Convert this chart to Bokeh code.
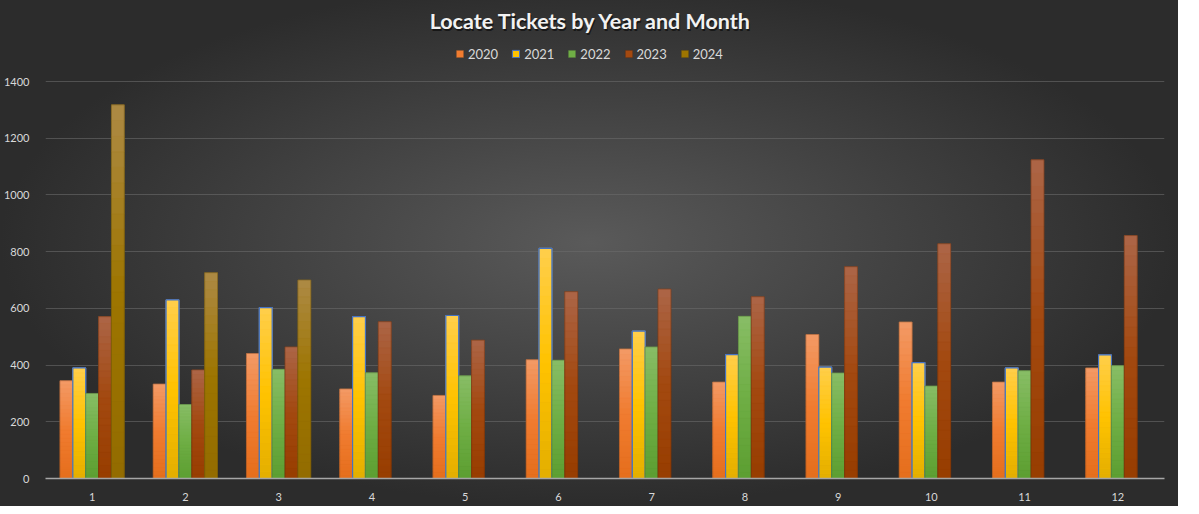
from bokeh.plotting import figure
from bokeh.models import ColumnDataSource, Range1d, Legend, LegendItem, FixedTicker, Label
from bokeh.embed import file_html
from bokeh.resources import INLINE

# ---- data ----
months = [1, 2, 3, 4, 5, 6, 7, 8, 9, 10, 11, 12]
years = ["2020", "2021", "2022", "2023", "2024"]
v2020 = [345, 333, 441, 316, 293, 419, 457, 340, 508, 552, 340, 390]
v2021 = [390, 630, 603, 571, 575, 812, 520, 437, 393, 409, 390, 436]
v2022 = [300, 261, 385, 373, 362, 417, 464, 572, 372, 326, 380, 398]
v2023 = [571, 383, 464, 553, 488, 659, 668, 641, 747, 828, 1124, 857]
v2024 = [1318, 726, 700, None, None, None, None, None, None, None, None, None]
y_ticks = [0, 200, 400, 600, 800, 1000, 1200, 1400]
title_text = "Locate Tickets by Year and Month"

series = [v2020, v2021, v2022, v2023, v2024]

# ---- style / layout ----
grad = [
    ("#F39A66", "#F07C30", "#E56E1C"),
    ("#FFCE4C", "#FFC300", "#E3AE00"),
    ("#88BD66", "#6FAE45", "#5C9E31"),
    ("#AC6547", "#A34910", "#973D00"),
    ("#AD8A45", "#9D7500", "#936C00"),
]
outline = ["#7A4A2A", "#4472C4", "#4E6E3A", "#5E2E10", "#5E4A10"]
outline_alpha = [0.35, 1.0, 0.35, 0.35, 0.35]
bar_w = 0.138
N_SLICES = 24

W, H = 1178, 506
BORDER_LEFT, BORDER_RIGHT = 42, 14
BORDER_BOTTOM = 28.5
FRAME_H = H - BORDER_BOTTOM          # frame runs from canvas top to the x axis
FRAME_W = W - BORDER_LEFT - BORDER_RIGHT
AXIS_TOP_PX = 81                      # pixel row of the 1400 gridline
Y_MAX_TICK = 1400
X0, X1 = 0.5, 12.5
px_per_unit = (FRAME_H - AXIS_TOP_PX) / Y_MAX_TICK
y_top = FRAME_H / px_per_unit
title_y = (FRAME_H - 20) / px_per_unit
title_x = X0 + (W / 2 - BORDER_LEFT) / FRAME_W * (X1 - X0)


def hex2rgb(h):
    h = h.lstrip("#")
    return tuple(int(h[i:i + 2], 16) for i in (0, 2, 4))


def lerp(c1, c2, t):
    a, b = hex2rgb(c1), hex2rgb(c2)
    return "#%02x%02x%02x" % tuple(int(round(a[i] + (b[i] - a[i]) * t)) for i in range(3))


def grad_color(stops, t):
    top, mid, bot = stops
    if t < 0.5:
        return lerp(bot, mid, t / 0.5)
    return lerp(mid, top, (t - 0.5) / 0.5)


p = figure(
    width=W, height=H,
    x_range=Range1d(X0, X1), y_range=Range1d(0, y_top),
    output_backend="svg", toolbar_location=None,
    min_border_left=BORDER_LEFT, min_border_right=BORDER_RIGHT,
    min_border_bottom=int(BORDER_BOTTOM), min_border_top=0,
)
p.styles = {
    "background": "radial-gradient(ellipse farthest-side at 50% 48%, #5a5a5a 0%, #2c2c2c 100%)"
}
p.background_fill_alpha = 0
p.border_fill_alpha = 0
p.outline_line_alpha = 0
p.title.visible = False

# title (with a soft shadow)
shadow = Label(x=title_x, y=title_y, text=title_text, text_align="center",
               text_baseline="middle", text_font="Lato", text_font_size="21.5px",
               text_font_style="bold", text_color="#000000", text_alpha=0.55,
               x_offset=1, y_offset=-2)
p.add_layout(shadow)
ttl = Label(x=title_x, y=title_y, text=title_text, text_align="center",
            text_baseline="middle", text_font="Lato", text_font_size="21.5px",
            text_font_style="bold", text_color="#F2F2F2")
p.add_layout(ttl)

legend_items = []
for i, (yr, vals) in enumerate(zip(years, series)):
    off = (i - 2) * bar_w
    xs = [m + off for m, v in zip(months, vals) if v is not None]
    vs = [v for v in vals if v is not None]
    src = ColumnDataSource(dict(x=xs, top=vs, bottom=[0] * len(vs)))
    base = p.vbar(x="x", top="top", bottom="bottom", width=bar_w, source=src,
                  fill_color=grad[i][1], line_color=outline[i],
                  line_alpha=outline_alpha[i], line_width=1)
    sx, sb, st, sc = [], [], [], []
    for x, v in zip(xs, vs):
        for k in range(N_SLICES):
            sx.append(x)
            sb.append(v * k / N_SLICES)
            st.append(v * (k + 1) / N_SLICES)
            sc.append(grad_color(grad[i], (k + 0.5) / N_SLICES))
    gsrc = ColumnDataSource(dict(x=sx, bottom=sb, top=st, c=sc))
    p.vbar(x="x", top="top", bottom="bottom", width=bar_w, source=gsrc,
           fill_color="c", line_color="c", line_width=0.5)
    p.vbar(x="x", top="top", bottom="bottom", width=bar_w, source=src,
           fill_alpha=0, line_color=outline[i], line_alpha=outline_alpha[i],
           line_width=1.2 if i == 1 else 1)
    legend_items.append(LegendItem(label=yr, renderers=[base]))

legend = Legend(items=legend_items, orientation="horizontal",
                location=(408, FRAME_H - 53 - 10),
                label_text_color="#D9D9D9", label_text_font="Lato",
                label_text_font_size="13px", glyph_width=9, glyph_height=9,
                label_standoff=4, spacing=13, padding=2, margin=0,
                background_fill_alpha=0, border_line_alpha=0)
p.add_layout(legend, "center")

# axes
p.xaxis.ticker = FixedTicker(ticks=months)
p.yaxis.ticker = FixedTicker(ticks=y_ticks)
for ax in (p.xaxis[0], p.yaxis[0]):
    ax.major_tick_line_color = None
    ax.minor_tick_line_color = None
    ax.major_label_text_color = "#D9D9D9"
    ax.major_label_text_font = "Lato"
    ax.major_label_text_font_size = "11px"
p.yaxis.axis_line_color = None
p.yaxis.major_label_standoff = 10
p.xaxis.axis_line_color = "#A6A6A6"
p.xaxis.axis_line_width = 1.5
p.xaxis.major_label_standoff = 8

p.xgrid.grid_line_color = None
p.ygrid.grid_line_color = "#6a6a6a"
p.ygrid.grid_line_alpha = 0.6
p.ygrid.grid_line_width = 1

open("out.html", "w").write(file_html(p, INLINE))
